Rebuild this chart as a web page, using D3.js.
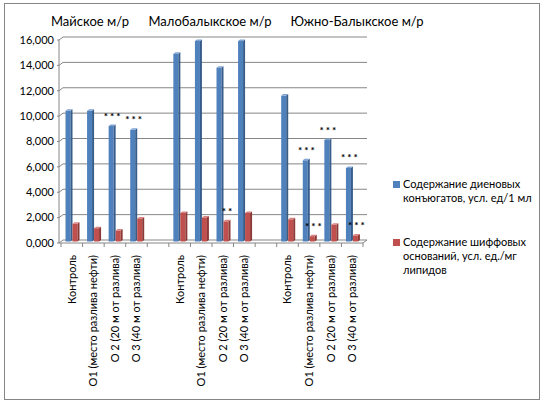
<!DOCTYPE html>
<html>
<head>
<meta charset="utf-8">
<script src="https://cdn.jsdelivr.net/npm/d3@7"></script>
<style>
  body { margin: 0; background: #fff; }
  text { font-family: Lato, "Noto Sans", sans-serif; fill: #000; }
</style>
</head>
<body>
<script>
// categories along x, blanks separate the three fields
const categories = [
  "Контроль", "О1 (место разлива нефти)", "О 2 (20 м от разлива)", "О 3 (40 м от разлива)", "",
  "Контроль", "О1 (место разлива нефти)", "О 2 (20 м от разлива)", "О 3 (40 м от разлива)", "",
  "Контроль", "О1 (место разлива нефти)", "О 2 (20 м от разлива)", "О 3 (40 м от разлива)"
];
const dieneValues  = [10300, 10300, 9100, 8800, null, 14800, 15800, 13700, 15800, null, 11500, 6400, 8000, 5800];
const schiffValues = [1400, 1050, 870, 1820, null, 2250, 1900, 1590, 2250, null, 1750, 420, 1330, 480];
const seriesNames = [
  ["Содержание диеновых", "конъюгатов, усл. ед/1 мл"],
  ["Содержание шиффовых", "оснований, усл. ед./мг", "липидов"]
];
const fieldNames = ["Майское м/р", "Малобалыкское м/р", "Южно-Балыкское м/р"];
const yTicks = [0, 2000, 4000, 6000, 8000, 10000, 12000, 14000, 16000];
// significance marks: series index, category index, text
const sigMarks = [
  [0, 2, "***"], [0, 3, "***"], [1, 7, "**"],
  [0, 11, "***"], [0, 12, "***"], [0, 13, "***"],
  [1, 11, "***"], [1, 13, "***"]
];

const W = 545, H = 406;
const colors = [
  {front: "#4F81BD", side: "#385D8A", top: "#7FA3D2"},
  {front: "#C0504D", side: "#8C3836", top: "#D98280"}
];
const dx = 4, dy = -3;        // back wall offset
const bdx = 2, bdy = -1.5;    // bar depth

const svg = d3.select("body").append("svg")
    .attr("width", W).attr("height", H);

svg.append("rect")
    .attr("x", 4.5).attr("y", 3.5)
    .attr("width", 535).attr("height", 396)
    .attr("fill", "#fff").attr("stroke", "#868686");

const x = d3.scaleBand().domain(d3.range(categories.length)).range([61, 363]);
const y = d3.scaleLinear().domain([0, 16000]).range([243, 40]);
const sub = d3.scaleBand().domain([0, 1]).range([4.5, 18.5]);

const fmt = v => v === 0 ? "0,000" : d3.format(",")(v);

// gridlines on back wall + left wall diagonals
const grid = svg.append("g").attr("stroke", "#868686").attr("fill", "none");
yTicks.forEach(t => {
  grid.append("path")
      .attr("d", `M57,${y(t)}L59,${y(t)}L${59 + dx},${y(t) + dy}L${363 + dx},${y(t) + dy}`);
});
grid.append("line")
    .attr("x1", 59).attr("x2", 59)
    .attr("y1", y(16000)).attr("y2", y(0));
// floor
grid.append("path")
    .attr("d", `M59,${y(0)}L363,${y(0)}L${363 + dx},${y(0) + dy}`);
x.domain().concat([categories.length]).forEach(i => {
  const xx = i < categories.length ? x(i) : x.range()[1];
  grid.append("line")
      .attr("x1", xx).attr("x2", xx)
      .attr("y1", y(0)).attr("y2", y(0) + 4);
});

svg.append("g").selectAll("text")
  .data(yTicks).join("text")
    .attr("x", 54).attr("y", d => y(d))
    .attr("dy", "0.35em")
    .attr("text-anchor", "end")
    .attr("font-size", 11)
    .text(fmt);

// bars
const series = [dieneValues, schiffValues];
series.forEach((vals, s) => {
  const g = svg.append("g");
  vals.forEach((v, i) => {
    if (v == null) return;
    const x0 = x(i) + sub(s);
    const w = sub.bandwidth() - bdx;
    const yt = y(v) - 1.5, yb = y(0) - 1.5;
    g.append("rect")
        .attr("x", x0).attr("y", yt)
        .attr("width", w).attr("height", yb - yt)
        .attr("fill", colors[s].front);
    g.append("path")
        .attr("d", `M${x0 + w},${yt}L${x0 + w + bdx},${yt + bdy}L${x0 + w + bdx},${yb + bdy}L${x0 + w},${yb}Z`)
        .attr("fill", colors[s].side);
    g.append("path")
        .attr("d", `M${x0},${yt}L${x0 + bdx},${yt + bdy}L${x0 + w + bdx},${yt + bdy}L${x0 + w},${yt}Z`)
        .attr("fill", colors[s].top);
  });
});

// significance marks
svg.append("g").selectAll("text")
  .data(sigMarks).join("text")
    .attr("x", d => x(d[1]) + sub(d[0]) + sub.bandwidth() / 2 + 1)
    .attr("y", d => y(series[d[0]][d[1]]) - 8)
    .attr("text-anchor", "middle")
    .attr("font-size", 10)
    .attr("font-weight", "bold")
    .attr("letter-spacing", 2)
    .text(d => d[2]);

// category labels
svg.append("g").selectAll("text")
  .data(categories).join("text")
    .attr("transform", (d, i) => `translate(${x(i) + x.bandwidth() / 2},255) rotate(-90)`)
    .attr("dy", "0.35em")
    .attr("text-anchor", "end")
    .attr("font-size", 11)
    .text(d => d);

// field names above groups
const fieldX = [90, 210, 357];
svg.append("g").selectAll("text")
  .data(fieldNames).join("text")
    .attr("x", (d, i) => fieldX[i]).attr("y", 26)
    .attr("text-anchor", "middle")
    .attr("font-size", 13)
    .text(d => d);

// legend
const legendY = [181, 239];
const lg = svg.append("g");
seriesNames.forEach((lines, s) => {
  lg.append("rect")
      .attr("x", 393).attr("y", legendY[s])
      .attr("width", 7).attr("height", 7)
      .attr("fill", colors[s].front);
  lines.forEach((t, k) => {
    lg.append("text")
        .attr("x", 403).attr("y", legendY[s] + 7 + k * 14)
        .attr("font-size", 11)
        .text(t);
  });
});
</script>
</body>
</html>
